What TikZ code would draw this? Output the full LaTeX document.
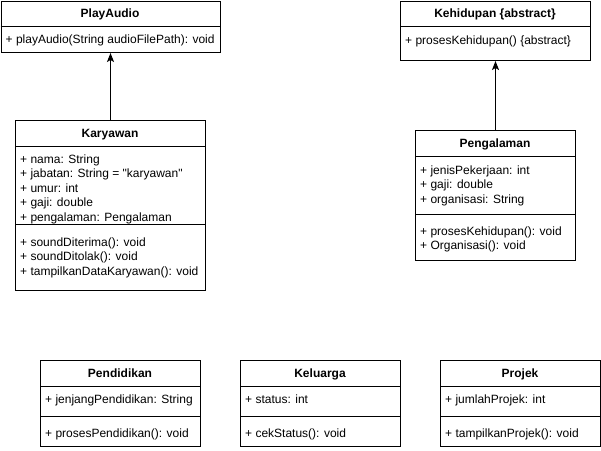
\documentclass[tikz,border=0pt]{standalone}
\usepackage{fontspec}
\setmainfont{Liberation Sans}[Ligatures=TeXOff]
\usetikzlibrary{arrows.meta}
\tikzset{
  box/.style={draw=black, line width=1pt, fill=white, rectangle, inner sep=0pt, anchor=north west},
  sep/.style={draw=black, line width=1pt},
  ttl/.style={font=\fontsize{12}{14}\selectfont\bfseries, inner sep=0pt, anchor=base},
  itm/.style={font=\fontsize{12}{14}\selectfont, inner sep=0pt, anchor=base west},
  arr/.style={draw=black, line width=1pt, -{Stealth[length=9pt,width=7pt,inset=2pt]}}
}
\begin{document}
\begin{tikzpicture}[x=1pt,y=-1pt]
\useasboundingbox[fill=white] (0,0) rectangle (601,450);

% PlayAudio
\node[box, minimum width=219pt, minimum height=51.5pt] (pa) at (0.5,0.5) {};
\draw[sep] (0.5,26) -- (219.5,26);
\node[ttl] (pat) at (110,17.5) {PlayAudio};
\node[itm] (pa1) at (5.5,43.5) {+ playAudio(String audioFilePath): void};

% Kehidupan
\node[box, minimum width=190pt, minimum height=59.5pt] (ke) at (400,0.5) {};
\draw[sep] (400,26) -- (590,26);
\node[ttl] (ket) at (495,17.5) {Kehidupan \{abstract\}};
\node[itm] (ke1) at (405,44) {+ prosesKehidupan() \{abstract\}};

% Karyawan
\node[box, minimum width=190pt, minimum height=170pt] (ka) at (15,120) {};
\draw[sep] (15,146) -- (205,146);
\node[itm] (ka1) at (20,163) {+ nama: String};
\node[itm] (ka2) at (20,177.5) {+ jabatan: String = "karyawan"};
\node[itm] (ka3) at (20,192) {+ umur: int};
\node[itm] (ka4) at (20,206.5) {+ gaji: double};
\node[itm] (ka5) at (20,221) {+ pengalaman: Pengalaman};
\draw[sep] (15,224) -- (205,224);
\node[ttl] (kat) at (110,137.5) {Karyawan};
\node[itm] (ka6) at (20,246) {+ soundDiterima(): void};
\node[itm] (ka7) at (20,260.5) {+ soundDitolak(): void};
\node[itm] (ka8) at (20,275) {+ tampilkanDataKaryawan(): void};

% Pengalaman
\node[box, minimum width=160pt, minimum height=130pt] (pg) at (415,130) {};
\draw[sep] (415,156) -- (575,156);
\node[ttl] (pgt) at (495,147.5) {Pengalaman};
\node[itm] (pg1) at (420,174) {+ jenisPekerjaan: int};
\node[itm] (pg2) at (420,188.5) {+ gaji: double};
\node[itm] (pg3) at (420,203) {+ organisasi: String};
\draw[sep] (415,214) -- (575,214);
\node[itm] (pg4) at (420,235) {+ prosesKehidupan(): void};
\node[itm] (pg5) at (420,249.5) {+ Organisasi(): void};

% Pendidikan
\node[box, minimum width=160pt, minimum height=86pt] (pd) at (40,360) {};
\draw[sep] (40,386) -- (200,386);
\node[ttl] (pdt) at (120,377.5) {Pendidikan};
\node[itm] (pd1) at (45,403.5) {+ jenjangPendidikan: String};
\draw[sep] (40,416) -- (200,416);
\node[itm] (pd2) at (45,437.5) {+ prosesPendidikan(): void};

% Keluarga
\node[box, minimum width=160pt, minimum height=86pt] (kl) at (240,360) {};
\draw[sep] (240,386) -- (400,386);
\node[ttl] (klt) at (320,377.5) {Keluarga};
\node[itm] (kl1) at (245,403.5) {+ status: int};
\draw[sep] (240,416) -- (400,416);
\node[itm] (kl2) at (245,437.5) {+ cekStatus(): void};

% Projek
\node[box, minimum width=160pt, minimum height=86pt] (pj) at (440,360) {};
\draw[sep] (440,386) -- (600,386);
\node[ttl] (pjt) at (520,377.5) {Projek};
\node[itm] (pj1) at (445,403.5) {+ jumlahProjek: int};
\draw[sep] (440,416) -- (600,416);
\node[itm] (pj2) at (445,437.5) {+ tampilkanProjek(): void};

% arrows
\draw[arr] (ka.north) -- (pa.south);
\draw[arr] (pg.north) -- (ke.south);
\end{tikzpicture}
\end{document}
